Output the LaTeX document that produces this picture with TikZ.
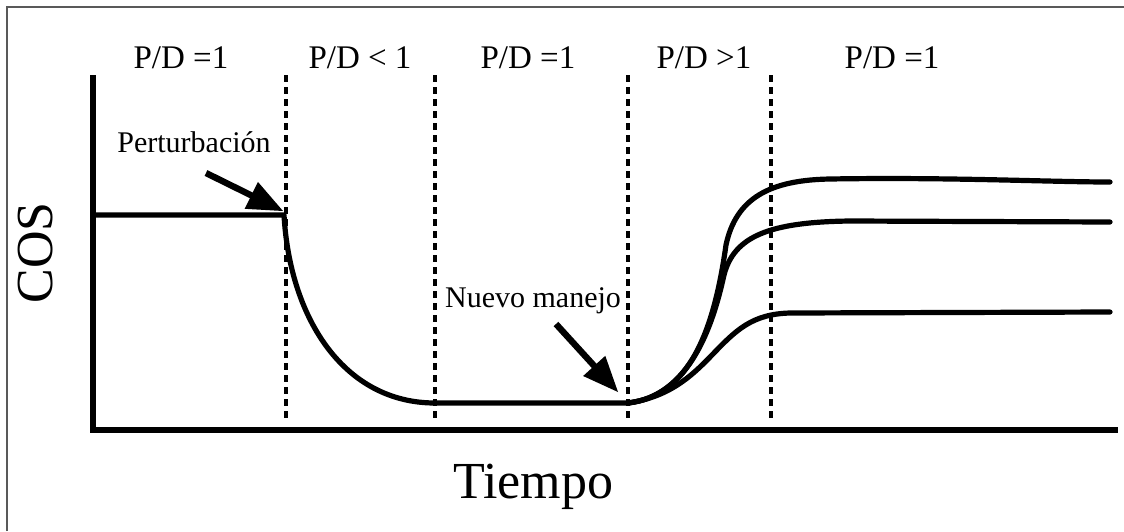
\documentclass[tikz,border=0pt]{standalone}
\usepackage{fontspec}
\setmainfont{Liberation Serif}
\usetikzlibrary{arrows}

\begin{document}
\begin{tikzpicture}[x=0.5pt,y=-0.5pt,>=triangle 45,
                    phase/.style={font=\fontsize{16.5}{18}\selectfont,anchor=base},
                    note/.style={font=\fontsize{15}{17}\selectfont,anchor=base},
                    axis label/.style={font=\fontsize{26}{30}\selectfont},
                    limit/.style={line width=2pt,dash pattern=on 3.5pt off 2.5pt},
                    curve/.style={line width=2.6pt,line cap=round,line join=round},
                    pointer/.style={->,line width=3.2pt}]
  \useasboundingbox (0,0) rectangle (1124,531);

  % frame
  \draw[gray!70!black,line width=0.8pt] (7,531) -- (7,7) -- (1124,7);

  % axes
  \coordinate (o) at (93,430);
  \coordinate (ytop) at (93,75);
  \coordinate (xend) at (1118,430);
  \draw[line width=3pt] (ytop) -- (o) -- (xend);

  % phase limits
  \foreach \x/\name in {286/a,435/b,628/c,771/d} {
    \coordinate (\name top) at (\x,75);
    \coordinate (\name bot) at (\x,420);
    \draw[limit] (\name top) -- (\name bot);
  }

  \node[phase] (pd0) at (181,68) {P/D =1};
  \node[phase] (pd1) at (360,68) {P/D < 1};
  \node[phase] (pd2) at (528,68) {P/D =1};
  \node[phase] (pd3) at (704,68) {P/D >1};
  \node[phase] (pd4) at (892,68) {P/D =1};

  % response
  \coordinate (start) at (93,215);
  \coordinate (kink) at (284,215);
  \coordinate (low) at (435,403);
  \coordinate (turn) at (628,403);
  \draw[curve] (start) -- (kink)
    .. controls (290,320) and (345,403) .. (low) -- (turn);
  \draw[curve] (turn) .. controls (690,396) and (714,330) .. (726,245)
    .. controls (736,198) and (770,180) .. (830,179)
    .. controls (950,177) and (1050,182) .. (1110,182);
  \draw[curve] (turn) .. controls (690,396) and (713,325) .. (724,275)
    .. controls (734,236) and (770,222) .. (850,221) -- (1110,222);
  \draw[curve] (turn) .. controls (668,397) and (690,378) .. (712,355)
    .. controls (736,330) and (752,314) .. (790,313) -- (1110,312);

  % notes
  \node[note] (pert) at (194,152) {Perturbación};
  \node[note] (manejo) at (533,307) {Nuevo manejo};
  \coordinate (pertTail) at (206,173);
  \coordinate (pertTip) at (283,211);
  \coordinate (manTail) at (556,324);
  \coordinate (manTip) at (618,392);
  \draw[pointer] (pertTail) -- (pertTip);
  \draw[pointer] (manTail) -- (manTip);

  % axis titles
  \node[axis label,rotate=90] (cos) at (36,253) {COS};
  \node[axis label,anchor=base] (tiempo) at (533,498) {Tiempo};
\end{tikzpicture}
\end{document}
